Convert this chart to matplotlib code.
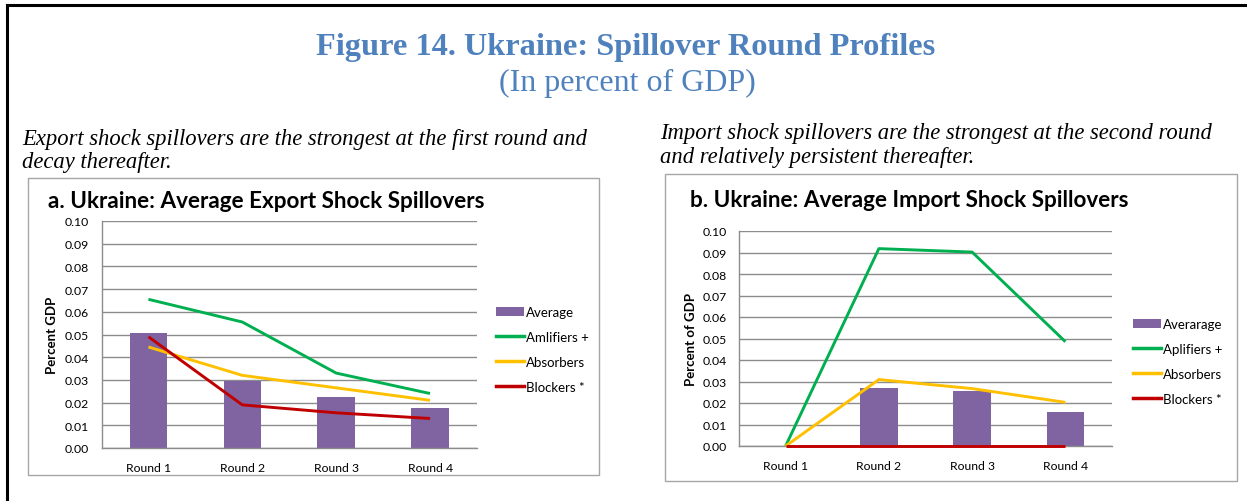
import matplotlib
matplotlib.use("Agg")
import matplotlib.pyplot as plt
from matplotlib.patches import Rectangle, Patch
from matplotlib.lines import Line2D

# ---------------- data ----------------
rounds = ["Round 1", "Round 2", "Round 3", "Round 4"]

exp_average = [0.0505, 0.0295, 0.0225, 0.0175]
exp_amplifiers = [0.0655, 0.0555, 0.033, 0.024]
exp_absorbers = [0.0445, 0.032, 0.0265, 0.021]
exp_blockers = [0.049, 0.019, 0.0155, 0.013]
exp_labels = ["Average", "Amlifiers +", "Absorbers", "Blockers *"]

imp_average = [0.0, 0.0271, 0.0254, 0.0157]
imp_amplifiers = [0.0, 0.0918, 0.0902, 0.0485]
imp_absorbers = [0.0, 0.0309, 0.0267, 0.0203]
imp_blockers = [0.0, 0.0, 0.0, 0.0]
imp_labels = ["Averarage", "Aplifiers +", "Absorbers", "Blockers *"]

yticks = [0.00, 0.01, 0.02, 0.03, 0.04, 0.05, 0.06, 0.07, 0.08, 0.09, 0.10]

fig_title = "Figure 14. Ukraine: Spillover Round Profiles"
fig_sub = "(In percent of GDP)"
text_a = ["Export shock spillovers are the strongest at the first round and",
          "decay thereafter."]
text_b = ["Import shock spillovers are the strongest at the second round",
          "and relatively persistent thereafter."]
title_a = "a. Ukraine: Average Export Shock Spillovers"
title_b = "b. Ukraine: Average Import Shock Spillovers"
ylabel_a = "Percent GDP"
ylabel_b = "Percent of GDP"

# ---------------- style ----------------
W, H = 1247, 502
PURPLE = "#8064A2"
GREEN = "#00B050"
YELLOW = "#FFC000"
RED = "#C00000"
GRID = "#8C8C8C"
BLUE = "#4F81BD"
SANS = ["Lato", "DejaVu Sans"]
SERIF = ["Liberation Serif", "DejaVu Serif"]

fig = plt.figure(figsize=(W / 100, H / 100), dpi=100)
fig.patch.set_facecolor("white")


def fx(px):
    return px / W


def fy(py):
    return 1 - py / H


# outer frame lines (top and left)
fig.add_artist(Line2D([fx(7), fx(1247)], [fy(6), fy(6)], color="black", lw=2.2,
                      transform=fig.transFigure))
fig.add_artist(Line2D([fx(7), fx(7)], [fy(6), fy(502)], color="black", lw=2.2,
                      transform=fig.transFigure))

# titles
fig.text(fx(626), fy(47), fig_title, ha="center", va="center", color=BLUE,
         fontsize=23.3, fontweight="bold", family=SERIF)
fig.text(fx(627), fy(83), fig_sub, ha="center", va="center", color=BLUE,
         fontsize=23, family=SERIF)

for i, line in enumerate(text_a):
    fig.text(fx(22), fy(140 + 23 * i), line, ha="left", va="center",
             fontsize=16.3, style="italic", family=SERIF)
for i, line in enumerate(text_b):
    fig.text(fx(660), fy(134 + 24 * i), line, ha="left", va="center",
             fontsize=16.3, style="italic", family=SERIF)

# panel boxes
fig.add_artist(Rectangle((fx(28), fy(476)), fx(599 - 28), (476 - 179) / H,
                         transform=fig.transFigure, fill=False,
                         edgecolor="#A6A6A6", lw=1.0))
fig.add_artist(Rectangle((fx(665), fy(482)), fx(1237 - 665), (482 - 175) / H,
                         transform=fig.transFigure, fill=False,
                         edgecolor="#A6A6A6", lw=1.0))


def panel(rect, avg, amp, absb, blk, labels, title, ylabel, title_xy,
          ylabel_x, leg_xy):
    left, top, right, bottom = rect
    ax = fig.add_axes([fx(left), fy(bottom), fx(right - left), (bottom - top) / H])
    x = list(range(len(rounds)))
    ax.bar(x, avg, width=0.4, color=PURPLE, zorder=2, label=labels[0])
    for vals, col, z, lab in [(amp, GREEN, 3, labels[1]),
                              (absb, YELLOW, 3, labels[2]),
                              (blk, RED, 4, labels[3])]:
        ax.plot(x, vals, color=col, lw=2.1, zorder=z, label=lab,
                solid_capstyle="butt", clip_on=False)
    ax.set_xlim(-0.5, len(rounds) - 0.5)
    ax.set_ylim(0, 0.10)
    ax.set_yticks(yticks)
    ax.set_yticklabels([f"{v:.2f}" for v in yticks], family=SANS, fontsize=8.8)
    ax.set_xticks(x)
    ax.set_xticklabels(rounds, family=SANS, fontsize=8.8)
    ax.tick_params(length=0, pad=9)
    ax.tick_params(axis="x", pad=10)
    ax.yaxis.grid(True, color=GRID, lw=1.0, zorder=0)
    ax.set_axisbelow(True)
    for s in ["top", "right"]:
        ax.spines[s].set_visible(False)
    for s in ["left", "bottom"]:
        ax.spines[s].set_color(GRID)
        ax.spines[s].set_linewidth(1.0)
    fig.text(fx(title_xy[0]), fy(title_xy[1]), title, ha="left", va="center",
             fontsize=16.2, fontweight="bold", family=SANS)
    fig.text(fx(ylabel_x), fy((top + bottom) / 2), ylabel, rotation=90,
             ha="center", va="center", fontsize=9.5, fontweight="bold",
             family=SANS)
    handles = [Patch(facecolor=PURPLE, edgecolor="none"),
               Line2D([], [], color=GREEN, lw=2.5),
               Line2D([], [], color=YELLOW, lw=2.5),
               Line2D([], [], color=RED, lw=2.5)]
    ax.legend(handles, labels, loc="upper left",
              bbox_to_anchor=(fx(leg_xy[0]), fy(leg_xy[1])),
              bbox_transform=fig.transFigure, frameon=False,
              prop={"family": SANS, "size": 9.5}, handlelength=2.1,
              handleheight=0.75, handletextpad=0.2, labelspacing=0.98,
              borderpad=0, borderaxespad=0)
    return ax


panel((101.5, 222, 477, 449), exp_average, exp_amplifiers, exp_absorbers,
      exp_blockers, exp_labels, title_a, ylabel_a, (48, 202), 52, (496, 307))
panel((739, 232, 1112, 447), imp_average, imp_amplifiers, imp_absorbers,
      imp_blockers, imp_labels, title_b, ylabel_b, (690, 201), 691, (1133, 319))

fig.savefig("out.png", dpi=100)
